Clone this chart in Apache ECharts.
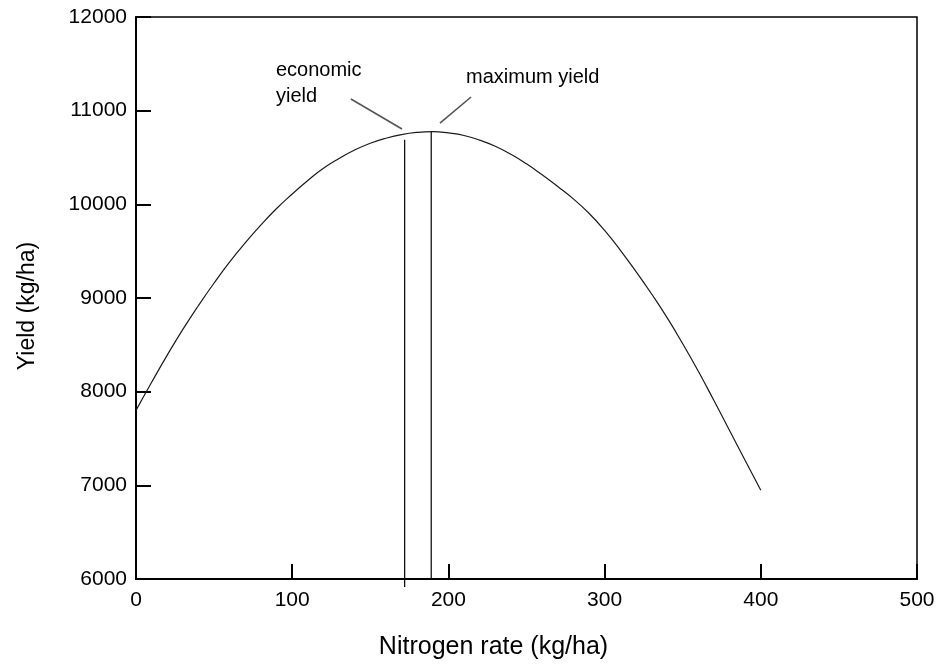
<!DOCTYPE html>
<html>
<head>
<meta charset="utf-8">
<title>Yield response to nitrogen rate</title>
<script src="https://cdn.jsdelivr.net/npm/echarts@6/dist/echarts.min.js"></script>
<style>
    html, body { margin: 0; padding: 0; background: #fff; }
    #chart { width: 937px; height: 666px; }
</style>
</head>
<body>
<div id="chart"></div>
<script>
// 曲线数据 (kg/ha), every 10 kg N
var nitrogenRate = [
    0, 10, 20, 30, 40, 50, 60, 70, 80, 90,
    100, 110, 120, 130, 140, 150, 160, 170, 180, 190,
    200, 210, 220, 230, 240, 250, 260, 270, 280, 290,
    300, 310, 320, 330, 340, 350, 360, 370, 380, 390, 400
];
var yieldValues = [
    7800, 8100, 8390, 8665, 8920, 9160, 9385, 9590, 9780, 9955,
    10110, 10255, 10385, 10490, 10580, 10652, 10706, 10745, 10768, 10776,
    10762, 10735, 10686, 10620, 10535, 10432, 10315, 10190, 10058, 9905,
    9722, 9512, 9285, 9045, 8790, 8512, 8218, 7905, 7585, 7265, 6948
];

// vertical markers: [rate, yield] pairs
var economicLine = [[172, 5915], [172, 10690]];
var maximumLine = [[189, 6000], [189, 10776]];

// leader lines from the notes to the curve
var economicLeader = [[137.6, 11124], [170.3, 10804]];
var maximumLeader = [[214.5, 11146], [194.6, 10868]];

// note texts, anchored at their left / middle
var noteNames = ['economic\nyield', 'maximum yield'];
var notePoints = [[89.6, 11295], [211.3, 11349]];

var xTickLabels = [0, 100, 200, 300, 400, 500];
var yTickLabels = [6000, 7000, 8000, 9000, 10000, 11000, 12000];

(function() {
    'use strict';

    var FONT = 'Liberation Sans, Arial, sans-serif';

    var curveData = nitrogenRate.map(function(x, i) {
        return [x, yieldValues[i]];
    });

    var noteData = noteNames.map(function(name, i) {
        return { name: name, value: notePoints[i] };
    });

    function $extend(a, b) {
        for (var k in b) { a[k] = b[k]; }
        return a;
    }

    function axisStyle(ticks) {
        return {
            type: 'value',
            min: ticks[0],
            max: ticks[ticks.length - 1],
            interval: ticks[1] - ticks[0],
            splitLine: { show: false },
            axisLine: { lineStyle: { color: '#000', width: 2 } },
            axisTick: { inside: true, length: 15, lineStyle: { color: '#000', width: 2 } },
            axisLabel: {
                fontSize: 21,
                color: '#000',
                fontFamily: FONT,
                // no thousands separator
                formatter: function(v) { return String(v); },
            },
            nameLocation: 'middle',
        };
    }

    function segment(data, color, width) {
        return {
            type: 'line',
            data: data,
            symbol: 'none',
            clip: false,
            silent: true,
            lineStyle: { color: color, width: width },
        };
    }

    var xAxis = $extend(axisStyle(xTickLabels), {
        name: 'Nitrogen rate (kg/ha)',
        nameGap: 56,
        nameTextStyle: { fontSize: 25, color: '#000', fontFamily: FONT, padding: [0, 66, 0, 0] },
    });
    xAxis.axisLabel.margin = 11;

    var yAxis = $extend(axisStyle(yTickLabels), {
        name: 'Yield (kg/ha)',
        nameGap: 97,
        nameTextStyle: { fontSize: 23, color: '#000', fontFamily: FONT, padding: [0, 16, 0, 0] },
    });
    yAxis.axisLabel.margin = 9;

    var option = {
        animation: false,
        backgroundColor: '#fff',
        grid: {
            left: 136, right: 20, top: 17, bottom: 87,
            containLabel: false,
            outerBoundsMode: 'none',
            show: true,
            borderColor: '#000',
            borderWidth: 1.5,
        },
        xAxis: xAxis,
        yAxis: yAxis,
        series: [
            {
                type: 'line',
                data: curveData,
                smooth: true,
                showSymbol: false,
                lineStyle: { color: '#1a1a1a', width: 1.2 },
            },
            segment(economicLine, '#000', 1.2),
            segment(maximumLine, '#000', 1.2),
            segment(economicLeader, '#555', 1.6),
            segment(maximumLeader, '#555', 1.6),
            {
                type: 'scatter',
                data: noteData,
                symbolSize: 0,
                silent: true,
                itemStyle: { opacity: 1 },
                label: {
                    show: true,
                    formatter: '{b}',
                    position: 'right',
                    distance: 0,
                    align: 'left',
                    verticalAlign: 'middle',
                    fontSize: 20,
                    lineHeight: 26,
                    color: '#000',
                    opacity: 1,
                    fontFamily: FONT,
                },
            },
        ],
    };

    var myChart = echarts.init(document.getElementById('chart'));
    myChart.setOption(option);
})();
</script>
</body>
</html>
